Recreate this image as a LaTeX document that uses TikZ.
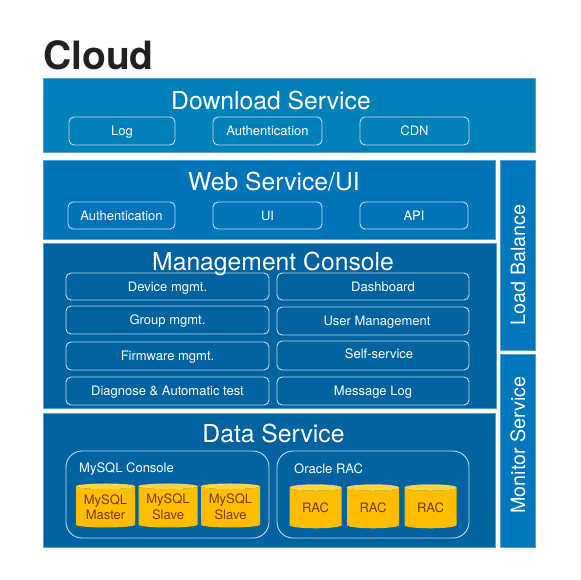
\documentclass[tikz,border=0pt]{standalone}
\usepackage{fontspec}
\setmainfont{TeX Gyre Heros}
\usetikzlibrary{shapes.geometric}

\definecolor{downloadblue}{HTML}{0080B9}
\definecolor{webblue}{HTML}{0073B9}
\definecolor{darkblue}{HTML}{00629F}
\definecolor{sideblue}{HTML}{0076BC}
\definecolor{edgeblue}{HTML}{4FA3CE}
\definecolor{boxline}{HTML}{C4DDEC}
\definecolor{dbfill}{HTML}{FFBE00}
\definecolor{dbtop}{HTML}{FFD545}
\definecolor{dbtext}{HTML}{7A3C00}

\begin{document}
\begin{tikzpicture}[
x=1pt, y=-1pt,
panel/.style={draw=edgeblue, line width=0.5pt, inner sep=0pt, outer sep=0pt},
title/.style={anchor=base, text=white, font=\fontsize{24.7}{25}\selectfont, inner sep=0pt},
sidetitle/.style={anchor=base, text=white, font=\fontsize{19.7}{20}\selectfont, inner sep=0pt, rotate=90},
subbox/.style={draw=boxline, line width=0.9pt, rounded corners=5pt, text=white, align=center, text height=11pt, text depth=2pt, inner sep=0pt, outer sep=0pt, font=\fontsize{13}{13}\selectfont},
subtext/.style={text=white, inner sep=0pt, text height=11pt, text depth=2pt, font=\fontsize{13}{13}\selectfont},
group/.style={draw=boxline, line width=0.9pt, rounded corners=16pt, inner sep=0pt, outer sep=0pt},
db/.style={cylinder, shape border rotate=90, aspect=0.13, cylinder uses custom fill, cylinder body fill=dbfill, cylinder end fill=dbtop, text=dbtext, align=center, inner sep=0pt, outer sep=0pt, font=\fontsize{13}{15.5}\selectfont},
racdb/.style={db, aspect=0.24}
]
\useasboundingbox (0,0) rectangle (580,580);

\node[anchor=west, inner sep=0pt, text=black!87, font=\fontsize{39}{39}\selectfont\bfseries] (cloud) at (43,55) {Cloud};

% panels
\node[panel, fill=downloadblue, minimum width=492pt, minimum height=74pt] (download) at (289,115) {};
\node[panel, fill=webblue, minimum width=452pt, minimum height=79pt] (web) at (269,199.5) {};
\node[panel, fill=darkblue, minimum width=453pt, minimum height=165pt] (mgmt) at (269.5,325.5) {};
\node[panel, fill=darkblue, minimum width=452pt, minimum height=134pt] (data) at (269,480) {};
\node[panel, fill=sideblue, minimum width=35pt, minimum height=190pt] (balance) at (517.5,255) {};
\node[panel, fill=sideblue, minimum width=35pt, minimum height=193pt] (monitor) at (517.5,450.5) {};

\node[title] (downloadtitle) at (271,109.5) {Download Service};
\node[title] (webtitle) at (274,190) {Web Service/UI};
\node[title] (mgmttitle) at (273,270) {Management Console};
\node[title] (datatitle) at (273.5,442) {Data Service};
\node[sidetitle] (balancetitle) at (525,265) {Load Balance};
\node[sidetitle] (monitortitle) at (525,445) {Monitor Service};

% download service
\node[subbox, minimum width=106pt, minimum height=28pt] (log) at (122,131) {Log};
\node[subbox, minimum width=109pt, minimum height=28pt] (dlauth) at (267.5,131) {Authentication};
\node[subbox, minimum width=109pt, minimum height=28pt] (cdn) at (414.5,131) {CDN};

% web service
\node[subbox, minimum width=107pt, minimum height=27pt] (webauth) at (121.5,215.5) {Authentication};
\node[subbox, minimum width=109pt, minimum height=27pt] (ui) at (267.5,215.5) {UI};
\node[subbox, minimum width=108pt, minimum height=27pt] (api) at (414,215.5) {API};

% management console
\node[subbox, minimum width=203pt, minimum height=27pt] (device) at (167.5,286.5) {Device mgmt.};
\node[subbox, minimum width=203pt, minimum height=28pt] (groupm) at (167.5,320) {Group mgmt.};
\node[subbox, minimum width=203pt, minimum height=28pt] (firmware) at (167.5,356) {Firmware mgmt.};
\node[subbox, minimum width=203pt, minimum height=28pt] (diagnose) at (167.5,391) {Diagnose \& Automatic test};
\node[subbox, minimum width=192pt, minimum height=27pt] (dashboard) at (373,286.5) {};
\node[subbox, minimum width=192pt, minimum height=28pt] (user) at (373,321) {};
\node[subbox, minimum width=192pt, minimum height=29pt] (self) at (373,355.5) {};
\node[subbox, minimum width=192pt, minimum height=28pt] (message) at (373,391) {Message Log};
\node[subtext] (dashboardtext) at (383,287) {Dashboard};
\node[subtext] (usertext) at (377,321) {User Management};
\node[subtext] (selftext) at (379,354) {Self-service};

% data service
\node[group, minimum width=203pt, minimum height=87pt] (mysql) at (167.5,494.5) {};
\node[group, minimum width=192pt, minimum height=87pt] (oracle) at (373,494.5) {};
\node[subtext, anchor=west] (mysqltext) at (79,468) {MySQL Console};
\node[subtext, anchor=west] (oracletext) at (294,469) {Oracle RAC};

\node[db, minimum width=59pt, minimum height=44pt] (master) at (105.5,507) {MySQL\\Master};
\node[db, minimum width=59pt, minimum height=44pt] (slavea) at (168,507) {MySQL\\Slave};
\node[db, minimum width=59pt, minimum height=44pt] (slaveb) at (230.5,507) {MySQL\\Slave};
\node[racdb, minimum width=52pt, minimum height=44pt] (raca) at (315.5,508) {RAC};
\node[racdb, minimum width=52pt, minimum height=44pt] (racb) at (373,508) {RAC};
\node[racdb, minimum width=52pt, minimum height=44pt] (racc) at (430.5,508) {RAC};

\end{tikzpicture}
\end{document}
